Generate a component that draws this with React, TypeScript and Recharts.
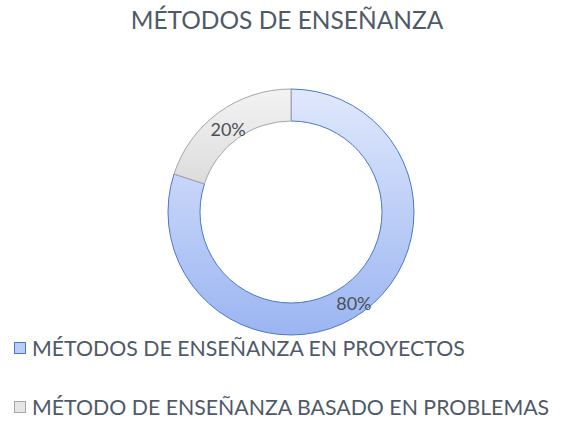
import { Cell, Legend, Pie, PieChart } from "recharts";

const categories = [
  "MÉTODOS DE ENSEÑANZA EN PROYECTOS",
  "MÉTODO DE ENSEÑANZA BASADO EN PROBLEMAS",
];
const values = [80, 20];
const title = "MÉTODOS DE ENSEÑANZA";

const FONT = "Lato, 'Open Sans', sans-serif";
const TEXT = "#4f5a69";

const fills = ["url(#blueFill)", "url(#grayFill)"];
const strokes = ["#4a78c8", "#a6a6a6"];
const swatches = ["#b9cdf7", "#e6e6e6"];

const data = categories.map((name, i) => ({ name, value: values[i] }));

const RADIAN = Math.PI / 180;

function renderLabel(props: any) {
  const { cx, cy, midAngle, innerRadius, outerRadius, value } = props;
  const r = (innerRadius + outerRadius) / 2;
  const x = cx + r * Math.cos(-midAngle * RADIAN);
  const y = cy + r * Math.sin(-midAngle * RADIAN) + 4;
  return (
    <text
      x={x}
      y={y}
      textAnchor="middle"
      dominantBaseline="central"
      fill="#4a4f58"
      fontFamily={FONT}
      fontSize={18}
    >
      {value}%
    </text>
  );
}

function renderLegend() {
  return (
    <div style={{ fontFamily: FONT }}>
      {categories.map((c, i) => (
        <div
          key={c}
          style={{
            display: "flex",
            alignItems: "center",
            height: 22,
            marginBottom: i === 0 ? 37 : 0,
          }}
        >
          <span
            style={{
              display: "inline-block",
              width: 10,
              height: 10,
              background: swatches[i],
              border: `1px solid ${strokes[i]}`,
              marginRight: 6,
            }}
          />
          <span style={{ fontSize: 21.3, color: TEXT, whiteSpace: "nowrap" }}>{c}</span>
        </div>
      ))}
    </div>
  );
}

export default function App() {
  return (
    <div
      style={{
        position: "fixed",
        top: 0,
        left: 0,
        width: 564,
        height: 421,
        background: "#fff",
      }}
    >
      <div
        style={{
          position: "absolute",
          top: 5,
          left: 0,
          width: 574,
          textAlign: "center",
          fontFamily: FONT,
          fontSize: 24.5,
          color: TEXT,
        }}
      >
        {title}
      </div>
      <PieChart width={564} height={421} margin={{ top: 0, right: 0, bottom: 0, left: 0 }}>
        <defs>
          <linearGradient id="blueFill" x1="0" y1="0" x2="0" y2="1">
            <stop offset="0%" stopColor="#e0e8fc" />
            <stop offset="100%" stopColor="#9bb5f2" />
          </linearGradient>
          <linearGradient id="grayFill" x1="0" y1="0" x2="0" y2="1">
            <stop offset="0%" stopColor="#f3f3f3" />
            <stop offset="100%" stopColor="#dcdcdc" />
          </linearGradient>
        </defs>
        <Pie
          data={data}
          dataKey="value"
          nameKey="name"
          cx={291}
          cy={212}
          innerRadius={91}
          outerRadius={123}
          startAngle={90}
          endAngle={-270}
          label={renderLabel}
          labelLine={false}
          isAnimationActive={false}
        >
          {data.map((d, i) => (
            <Cell key={d.name} fill={fills[i]} stroke={strokes[i]} strokeWidth={1} />
          ))}
        </Pie>
        <Legend
          content={renderLegend}
          layout="vertical"
          wrapperStyle={{ position: "absolute", left: 14, top: 337, width: 550 }}
        />
      </PieChart>
    </div>
  );
}
